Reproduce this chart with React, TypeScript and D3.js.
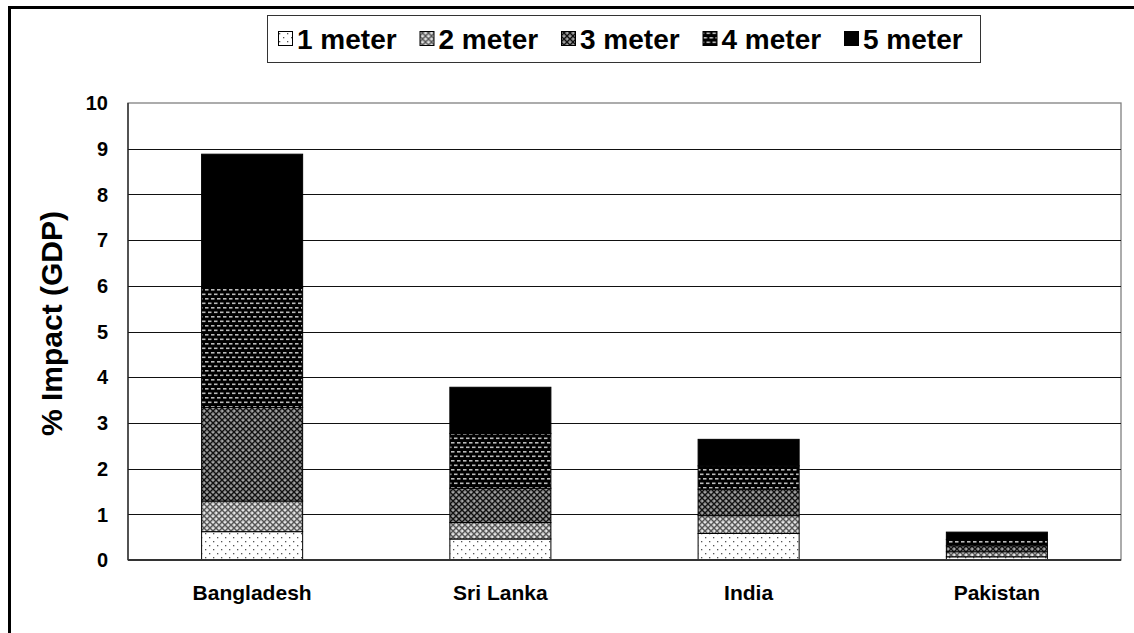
import React from "react";
import * as d3 from "d3";

const categories = ["Bangladesh", "Sri Lanka", "India", "Pakistan"];
const seriesNames = ["1 meter", "2 meter", "3 meter", "4 meter", "5 meter"];
const meter1 = [0.62, 0.46, 0.58, 0.07];
const meter2 = [0.67, 0.36, 0.39, 0.11];
const meter3 = [2.05, 0.75, 0.58, 0.13];
const meter4 = [2.62, 1.2, 0.51, 0.14];
const meter5 = [2.92, 1.01, 0.58, 0.16];
const yTicks = [0, 1, 2, 3, 4, 5, 6, 7, 8, 9, 10];

const W = 1134;
const H = 633;
const PL = 128;
const PR = 1121;
const PT = 103;
const PB = 560;
const FONT = "'Liberation Sans', Arial, Helvetica, sans-serif";

const seriesValues = [meter1, meter2, meter3, meter4, meter5];
const rows = categories.map((c, i) => {
  const r: any = { cat: c };
  seriesNames.forEach((s, j) => (r[s] = seriesValues[j][i]));
  return r;
});

const fills = ["url(#p1)", "url(#p2)", "url(#p3)", "url(#p4)", "#000"];

export default function App() {
  const x = d3.scaleBand<string>().domain(categories).range([PL, PR]).paddingInner(0.593).paddingOuter(0.2965);
  const y = d3.scaleLinear().domain([0, 10]).range([PB, PT]);
  const stacked = d3.stack<any>().keys(seriesNames)(rows);

  return (
    <svg width={W} height={H} style={{ position: "absolute", left: 0, top: 0, background: "#fff" }} fontFamily={FONT}>
      <defs>
        <pattern id="p1" width="8" height="8" patternUnits="userSpaceOnUse">
          <rect width="8" height="8" fill="#fff" />
          <rect x="1" y="1" width="1.3" height="1.3" fill="#555" />
          <rect x="5" y="5" width="1.3" height="1.3" fill="#555" />
        </pattern>
        <pattern id="p2" width="6" height="6" patternUnits="userSpaceOnUse">
          <rect width="6" height="6" fill="#d0d0d0" />
          <path d="M0,0 L6,6 M6,0 L0,6" stroke="#555" strokeWidth="1.3" />
          <rect x="2.5" y="0" width="1" height="1" fill="#fff" />
          <rect x="0" y="2.5" width="1" height="1" fill="#fff" />
        </pattern>
        <pattern id="p3" width="6" height="6" patternUnits="userSpaceOnUse">
          <rect width="6" height="6" fill="#8c8c8c" />
          <path d="M0,0 L6,6 M6,0 L0,6" stroke="#111" strokeWidth="1.3" />
          <rect x="2.5" y="0" width="1" height="1" fill="#bbb" />
          <rect x="0" y="2.5" width="1" height="1" fill="#bbb" />
        </pattern>
        <pattern id="p4" width="12" height="9" patternUnits="userSpaceOnUse">
          <rect width="12" height="9" fill="#000" />
          <rect x="1" y="1" width="3.5" height="1.6" fill="#bbb" />
          <rect x="7" y="1" width="3.5" height="1.6" fill="#bbb" />
          <rect x="4" y="5.5" width="3.5" height="1.6" fill="#bbb" />
          <rect x="10" y="5.5" width="3.5" height="1.6" fill="#bbb" />
          <rect x="-2" y="5.5" width="3.5" height="1.6" fill="#bbb" />
        </pattern>
      </defs>

      {/* outer frame */}
      <rect x={9.5} y={7.5} width={W + 20} height={H + 20} fill="none" stroke="#000" strokeWidth={3} />

      {/* plot area */}
      <rect x={PL} y={PT} width={PR - PL} height={PB - PT} fill="#fff" stroke="#808080" strokeWidth={1.3} />
      {yTicks.filter((t) => t > 0 && t < 10).map((t) => (
        <line key={t} x1={PL} x2={PR} y1={Math.round(y(t)) + 0.5} y2={Math.round(y(t)) + 0.5} stroke="#111" strokeWidth={1} />
      ))}

      {/* bars */}
      {stacked.map((s, si) => (
        <g key={s.key}>
          {s.map((d, i) => (
            <rect
              key={i}
              x={x(categories[i])}
              width={x.bandwidth()}
              y={y(d[1])}
              height={Math.max(0, y(d[0]) - y(d[1]))}
              fill={fills[si]}
              stroke="#000"
              strokeWidth={1}
            />
          ))}
        </g>
      ))}

      {/* axes */}
      <line x1={PL} x2={PL} y1={PT} y2={PB} stroke="#222" strokeWidth={1.3} />
      <line x1={PL} x2={PR} y1={PB} y2={PB} stroke="#333" strokeWidth={2} />

      {yTicks.map((t) => (
        <text key={t} x={108} y={y(t)} dy="0.36em" textAnchor="end" fontSize={20} fontWeight="bold" fill="#000">
          {t}
        </text>
      ))}
      {categories.map((c) => (
        <text key={c} x={(x(c) as number) + x.bandwidth() / 2} y={600} textAnchor="middle" fontSize={21} fontWeight="bold" fill="#000">
          {c}
        </text>
      ))}

      <text transform={`translate(51,${(PT + PB) / 2 - 8}) rotate(-90)`} dy="0.36em" textAnchor="middle" fontSize={30} fontWeight="bold" fill="#000">
        % Impact (GDP)
      </text>

      {/* legend */}
      <rect x={267.5} y={15.5} width={713} height={47} fill="#fff" stroke="#333" strokeWidth={1} />
      {seriesNames.map((s, i) => (
        <g key={s} transform={`translate(${278 + i * 141.5},0)`}>
          <rect x={0.5} y={31.5} width={14} height={14} fill={fills[i]} stroke="#000" strokeWidth={1} />
          <text x={19} y={39} dy="0.36em" fontSize={28} fontWeight="bold" fill="#000">
            {s}
          </text>
        </g>
      ))}
    </svg>
  );
}
